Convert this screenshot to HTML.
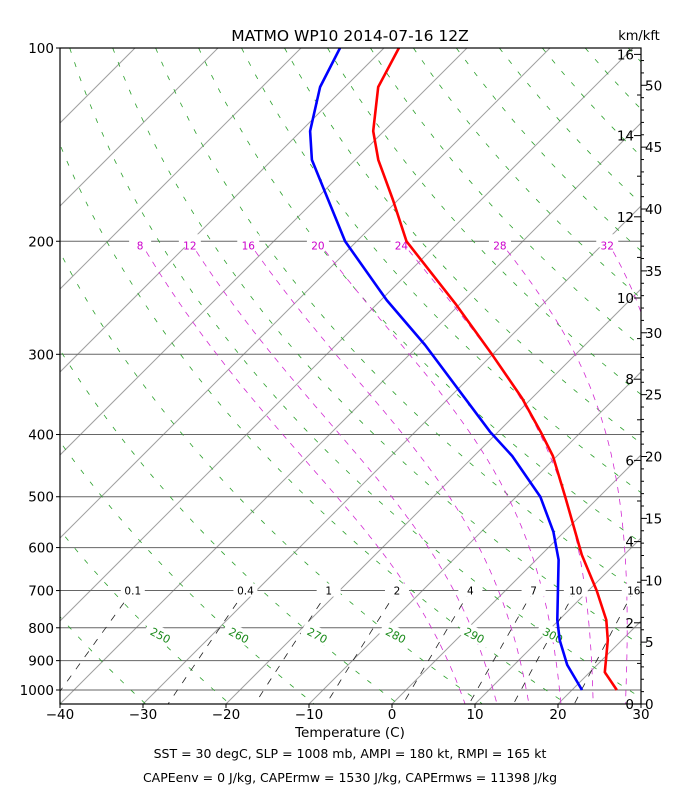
<!DOCTYPE html>
<html><head><meta charset="utf-8"><style>
html,body{margin:0;padding:0;background:#fff}
svg{display:block;font-family:"DejaVu Sans","Liberation Sans",sans-serif}
</style></head><body>
<svg id="c" width="700" height="800" viewBox="0 0 700 800">
<defs><clipPath id="pc"><rect x="60" y="48" width="581" height="656"/></clipPath></defs>
<rect x="0" y="0" width="700" height="800" fill="#fff"/>
<g id="grid" clip-path="url(#pc)"></g>
<g id="lbl"></g>
<g id="prof" clip-path="url(#pc)"></g>
<rect x="60" y="48" width="581" height="656" fill="none" stroke="#000" stroke-width="1.2"/>
<g id="axes"></g>
<text x="350" y="41" text-anchor="middle" font-size="15.5">MATMO WP10 2014-07-16 12Z</text>
<text x="639" y="40" text-anchor="middle" font-size="13">km/kft</text>
<text x="350" y="737" text-anchor="middle" font-size="13.5">Temperature (C)</text>
<text x="350" y="758" text-anchor="middle" font-size="12.5">SST = 30 degC, SLP = 1008 mb, AMPI = 180 kt, RMPI = 165 kt</text>
<text x="350" y="782" text-anchor="middle" font-size="12.5">CAPEenv = 0 J/kg, CAPErmw = 1530 J/kg, CAPErmws = 11398 J/kg</text>
</svg>
<script>
const presTemp=[100,115,134.7,149.4,172.5,200,251,300,351,396,432,500,616,700,778,836,938,1000];
const tempVals=[-78.2,-76.0,-71.3,-67.2,-60.6,-54.0,-40.4,-30.1,-21.2,-14.9,-10.5,-4.1,4.9,11.0,15.7,18.3,21.8,25.4];
const presDew=[100,115,134.7,149.4,200,247,290,396,432,500,567,627,778,836,914,1000];
const dewVals=[-85.3,-83,-78.9,-75.2,-61.4,-49.3,-39.3,-21,-15.4,-7.1,-1.3,2.7,9.8,12.5,16.4,21.2];
const isobars=[100,200,300,400,500,600,700,800,900,1000];
const xTicks=[-40,-30,-20,-10,0,10,20,30];
const thetas=[200,210,220,230,240,250,260,270,280,290,300,310,320,330,340,350,360,370,380,390,400,410,420,430,440,450,460,470,480,490,500,520,540,560,580,600];
const thetaLabels=[250,260,270,280,290,300];
const thetaW=[8,12,16,20,24,28,32];
const mixRatios=[0.1,0.4,1,2,4,7,10,16];
const kmTicks=[0,2,4,6,8,10,12,14,16];
const kftTicks=[0,5,10,15,20,25,30,35,40,45,50];

const NS="http://www.w3.org/2000/svg";
const PBOT=1000*Math.pow(10,14/642);
function yP(p){return 48+642*Math.log10(p/100);}
function xT(T,p){return 60+(T+40)*8.3+(704-yP(p));}
function mk(tag,attrs,parent){const e=document.createElementNS(NS,tag);for(const k in attrs)e.setAttribute(k,attrs[k]);parent.appendChild(e);return e;}
const grid=document.getElementById('grid'),lbl=document.getElementById('lbl'),prof=document.getElementById('prof'),axes=document.getElementById('axes');
function pathFrom(pts){return pts.map((q,i)=>(i?'L':'M')+q[0].toFixed(1)+','+q[1].toFixed(1)).join('');}

for(let T=-130;T<=30;T+=10){
  const l=mk('line',{x1:xT(T,PBOT),y1:704,x2:xT(T,100),y2:48,stroke:'#a0a0a0','stroke-width':1},grid);
  
  
}
isobars.forEach(p=>{
  const l=mk('line',{x1:60,y1:yP(p),x2:641,y2:yP(p),stroke:'#666','stroke-width':1},grid);
  
  
});
thetas.forEach(th=>{
  const pts=[];
  for(let p=100;p<=PBOT+1;p+=10){const T=th*Math.pow(p/1000,0.286)-273.15;pts.push([xT(T,p),yP(p)]);}
  const e=mk('path',{d:pathFrom(pts),fill:'none',stroke:'#2ca02c','stroke-width':0.8,'stroke-dasharray':'5,10'},grid);
  
  
});
function dTdp(T,p){const Tc=T-273.15;const es=6.112*Math.exp(17.67*Tc/(Tc+243.5));const rs=0.622*es/(p-es);const L=2.501e6;return (287*T+L*rs)/(1004+L*L*rs*0.622/(287*T*T))/p;}
const moistAt200={};
thetaW.forEach(tw=>{
  let T=tw-1.5+273.15,p=1000;const up=[[T,p]];
  while(p>200){const dp=-2;T+=dTdp(T,p)*dp;p+=dp;up.push([T,p]);}
  moistAt200[tw]=T-273.15;
  T=tw-1.5+273.15;p=1000;const dn=[];
  while(p<PBOT){const dp=2;T+=dTdp(T,p)*dp;p+=dp;dn.push([T,p]);}
  const all=up.reverse().concat(dn);
  const pts=all.map(q=>[xT(q[0]-273.15,q[1]),yP(q[1])]);
  const e=mk('path',{d:pathFrom(pts),fill:'none',stroke:'#d22bd2','stroke-width':0.8,'stroke-dasharray':'6,6'},grid);
  
  
});
function Tmix(w,p){const e=w*p/(622+w);const a=Math.log(e/6.112);return 243.5*a/(17.67-a);}
mixRatios.forEach(w=>{
  const pts=[];
  for(let p=700;p<=PBOT+1;p+=10)pts.push([xT(Tmix(w,p),p),yP(p)]);
  const e=mk('path',{d:pathFrom(pts),fill:'none',stroke:'#222','stroke-width':0.8,'stroke-dasharray':'7,8'},grid);
  
  
  const x=xT(Tmix(w,700),700);
  const r=mk('rect',{x:x-12,y:yP(700)-7,width:24,height:13,fill:'#fff'},lbl);
  
  
  const t=mk('text',{x:x,y:yP(700)+4,'text-anchor':'middle','font-size':10.5,fill:'#000'},lbl);
  t.textContent=String(w);
  
  
});
thetaW.forEach(tw=>{
  const x=xT(moistAt200[tw],200);
  if(x<60||x>641)return;
  const r=mk('rect',{x:x-11,y:yP(200)-7,width:22,height:13,fill:'#fff'},lbl);
  
  
  const t=mk('text',{x:x,y:yP(200)+8,'text-anchor':'middle','font-size':10.5,fill:'#cc00cc'},lbl);
  t.textContent=String(tw);
  
  
});
thetaLabels.forEach(th=>{
  const p=822;const T=th*Math.pow(p/1000,0.286)-273.15;const x=xT(T,p)+5,y=yP(p);
  const r=mk('rect',{x:x-16,y:y-8,width:32,height:14,fill:'#fff',transform:`rotate(28 ${x} ${y})`},lbl);
  
  
  const t=mk('text',{x:x,y:y+4,'text-anchor':'middle','font-size':11,fill:'#1a8a1a',transform:`rotate(28 ${x} ${y})`},lbl);
  t.textContent=String(th);
  
  
});
const tp=mk('path',{d:pathFrom(presTemp.map((p,i)=>[xT(tempVals[i],p),yP(p)])),fill:'none',stroke:'#ff0000','stroke-width':2.6,'stroke-linejoin':'round'},prof);


const dp=mk('path',{d:pathFrom(presDew.map((p,i)=>[xT(dewVals[i],p),yP(p)])),fill:'none',stroke:'#0000ff','stroke-width':2.6,'stroke-linejoin':'round'},prof);


isobars.forEach(p=>{
  const y=yP(p);
  const l=mk('line',{x1:60,y1:y,x2:56,y2:y,stroke:'#000'},axes);
  
  
  const t=mk('text',{x:54,y:y+5,'text-anchor':'end','font-size':13.5},axes);
  t.textContent=String(p);
  
  
});
xTicks.forEach(T=>{
  const x=60+(T+40)*8.3;
  const l=mk('line',{x1:x,y1:704,x2:x,y2:708,stroke:'#000'},axes);
  
  
  const t=mk('text',{x:x,y:719,'text-anchor':'middle','font-size':13.5},axes);
  t.textContent=(T<0?'\u2212'+(-T):String(T));
  
  
});
for(let k=0;k<=16;k++){
  const y=704-k*40.6;
  const l=mk('line',{x1:641,y1:y,x2:(k%2?637:634),y2:y,stroke:'#000'},axes);
  
  
}
kmTicks.forEach(k=>{
  const y=704-k*40.6;
  const t=mk('text',{x:634,y:y+5,'text-anchor':'end','font-size':13.5},axes);
  t.textContent=String(k);
  
  
});
for(let f=0;f<=52;f++){
  const y=704-f*40.6/3.281;
  const l=mk('line',{x1:641,y1:y,x2:(f%5?644:647),y2:y,stroke:'#000'},axes);
  
  
}
kftTicks.forEach(f=>{
  const y=704-f*40.6/3.281;
  const t=mk('text',{x:645,y:y+5,'text-anchor':'start','font-size':13.5},axes);
  t.textContent=String(f);
  
  
});
</script>
</body></html>
